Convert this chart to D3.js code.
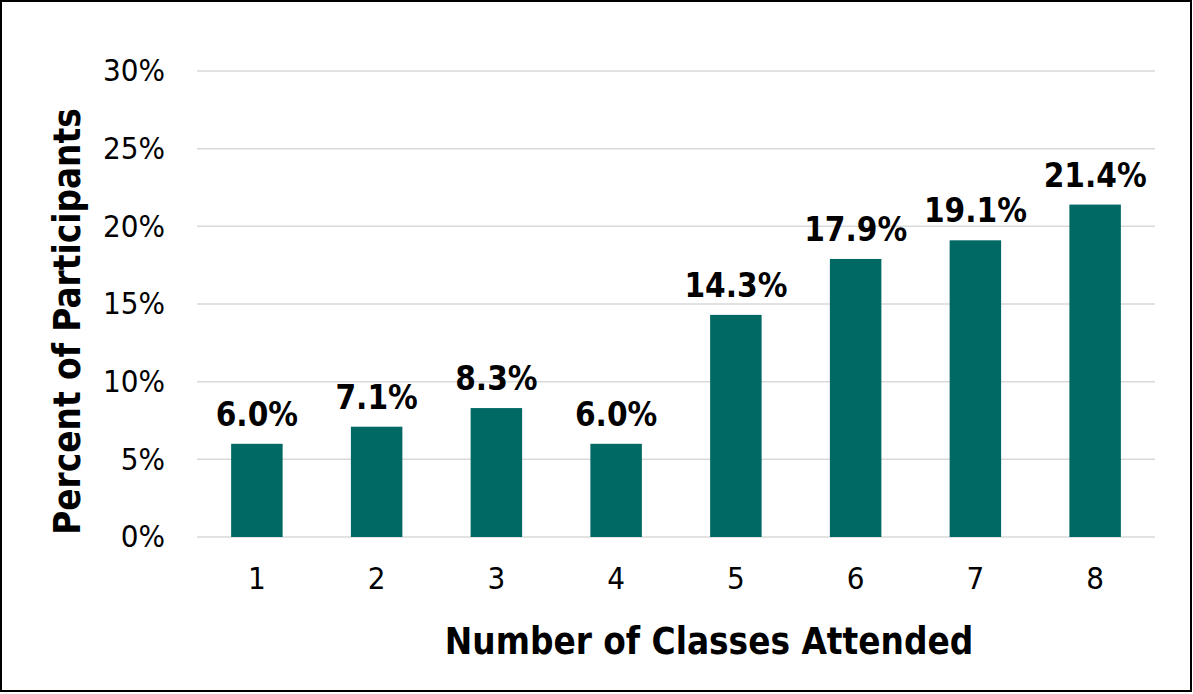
<!DOCTYPE html>
<html>
<head>
<meta charset="utf-8">
<script src="https://cdn.jsdelivr.net/npm/d3@7"></script>
<style>
  html, body { margin: 0; padding: 0; background: #fff; }
  svg { display: block; font-family: "DejaVu Sans Condensed", "DejaVu Sans", Verdana, sans-serif; font-stretch: condensed; }
</style>
</head>
<body>
<svg id="chart" width="1193" height="694"></svg>
<script>
const categories = ["1", "2", "3", "4", "5", "6", "7", "8"];
const values = [6.0, 7.1, 8.3, 6.0, 14.3, 17.9, 19.1, 21.4];
const yTicks = [0, 5, 10, 15, 20, 25, 30];
const xTitle = "Number of Classes Attended";
const yTitle = "Percent of Participants";

const FONT = "'DejaVu Sans Condensed', 'DejaVu Sans', Verdana, sans-serif";
const W = 1193, H = 694;
const margin = { left: 197, right: 38, top: 71, bottom: 157 };
const svg = d3.select("#chart");

// outer border
svg.append("rect")
  .attr("x", 1).attr("y", 1)
  .attr("width", W - 3).attr("height", H - 4)
  .attr("fill", "#fff").attr("stroke", "#000").attr("stroke-width", 2);

const x = d3.scaleBand()
  .domain(categories)
  .range([margin.left, W - margin.right])
  .paddingInner(0.57).paddingOuter(0.285);

const y = d3.scaleLinear()
  .domain([0, 30])
  .range([H - margin.bottom, margin.top]);

// gridlines
svg.append("g").selectAll("line")
  .data(yTicks).join("line")
  .attr("x1", margin.left).attr("x2", W - margin.right)
  .attr("y1", d => y(d)).attr("y2", d => y(d))
  .attr("stroke", "#d9d9d9").attr("stroke-width", 1.5);

// y axis labels
const yAxis = d3.axisLeft(y).tickValues(yTicks).tickFormat(d => d + "%").tickSize(0).tickPadding(32);
const gy = svg.append("g").attr("transform", `translate(${margin.left},0)`).call(yAxis);
gy.select(".domain").remove();
gy.selectAll("text")
  .attr("font-family", FONT)
  .attr("font-size", 31).attr("fill", "#000");

// x axis labels
const xAxis = d3.axisBottom(x).tickSize(0).tickPadding(30);
const gx = svg.append("g").attr("transform", `translate(0,${y(0)})`).call(xAxis);
gx.select(".domain").remove();
gx.selectAll("text")
  .attr("font-family", FONT)
  .attr("font-size", 31).attr("fill", "#000");

// bars
svg.append("g").selectAll("rect")
  .data(values).join("rect")
  .attr("x", (d, i) => x(categories[i]))
  .attr("width", x.bandwidth())
  .attr("y", d => y(d))
  .attr("height", d => y(0) - y(d))
  .attr("fill", "#006964");

// value labels
svg.append("g").selectAll("text")
  .data(values).join("text")
  .attr("x", (d, i) => x(categories[i]) + x.bandwidth() / 2)
  .attr("y", d => y(d) - 18)
  .attr("text-anchor", "middle")
  .attr("font-family", FONT)
  .attr("font-size", 33).attr("font-weight", "bold").attr("fill", "#000")
  .text(d => d.toFixed(1) + "%");

// axis titles
svg.append("text")
  .attr("x", 709)
  .attr("y", 654)
  .attr("text-anchor", "middle")
  .attr("font-family", FONT)
  .attr("font-size", 36.5).attr("font-weight", "bold").attr("fill", "#000")
  .text(xTitle);

svg.append("text")
  .attr("transform", `translate(80,321.5) rotate(-90)`)
  .attr("text-anchor", "middle")
  .attr("font-family", FONT)
  .attr("font-size", 36.5).attr("font-weight", "bold").attr("fill", "#000")
  .text(yTitle);
</script>
</body>
</html>
